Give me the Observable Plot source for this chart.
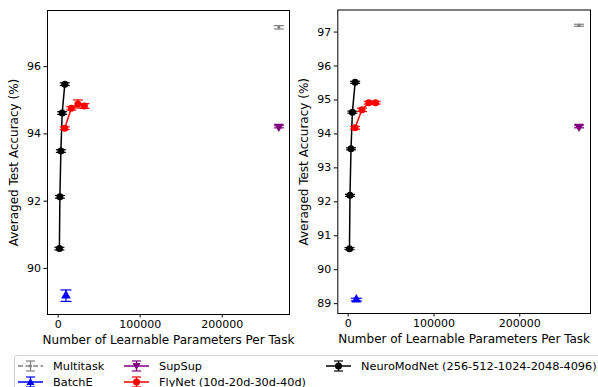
<!DOCTYPE html>
<html>
<head>
<meta charset="utf-8">
<script src="https://cdn.jsdelivr.net/npm/d3@7"></script>
<script src="https://cdn.jsdelivr.net/npm/@observablehq/plot@0.6"></script>
<style>
  html, body { margin: 0; padding: 0; background: #fff; overflow: hidden; }
  #root { position: relative; width: 598px; height: 387px; font-family: "DejaVu Sans", sans-serif; background: #fff; }
  .panel { position: absolute; top: 0; }
  .panel svg { background: transparent !important; }
  #legend { position: absolute; left: 14px; top: 355px; width: 590px; height: 50px;
            border: 1px solid #d0d0d0; border-radius: 3px; box-sizing: border-box; background: #fff; }
  .item { position: absolute; display: flex; align-items: center; font-size: 11.3px; color: #000; white-space: nowrap; }
  .item svg { margin-right: 9px; }
</style>
</head>
<body>
<div id="root">
  <div id="left" class="panel" style="left:0px"></div>
  <div id="right" class="panel" style="left:290px"></div>
  <div id="legend"></div>
</div>
<script>
// ---- data ----
const seriesNames = ["Multitask", "BatchE", "SupSup", "FlyNet (10d-20d-30d-40d)", "NeuroModNet (256-512-1024-2048-4096)"];
const seriesColors = ["#808080", "#0000ff", "#800080", "#ff0000", "#000000"];

const multitaskX = [269000];
const multitaskLeft = [97.17];
const multitaskLeftErr = [0.05];
const multitaskRight = [97.20];
const multitaskRightErr = [0.03];

const batchEX = [9500];
const batchELeft = [89.19];
const batchELeftErr = [0.17];
const batchERight = [89.12];
const batchERightErr = [0.04];

const supSupX = [269000];
const supSupLeft = [94.22];
const supSupLeftErr = [0.04];
const supSupRight = [94.22];
const supSupRightErr = [0.04];

const flyNetX = [8000, 16000, 24000, 32000];
const flyNetLeft = [94.17, 94.76, 94.89, 94.83];
const flyNetLeftErr = [0.04, 0.05, 0.12, 0.07];
const flyNetRight = [94.18, 94.71, 94.92, 94.92];
const flyNetRightErr = [0.04, 0.05, 0.04, 0.04];

const neuroX = [1500, 2100, 3300, 4900, 8100];
const neuroLeft = [90.59, 92.13, 93.49, 94.62, 95.48];
const neuroLeftErr = [0.04, 0.04, 0.04, 0.04, 0.04];
const neuroRight = [90.62, 92.19, 93.56, 94.64, 95.52];
const neuroRightErr = [0.03, 0.03, 0.03, 0.03, 0.03];

const xTicks = [0, 100000, 200000];
const leftYTicks = [90, 92, 94, 96];
const rightYTicks = [89, 90, 91, 92, 93, 94, 95, 96, 97];
const xLabel = "Number of Learnable Parameters Per Task";
const yLabel = "Averaged Test Accuracy (%)";

// ---- helpers ----
const capSymbol = {
  draw(ctx, size) {
    const r = Math.sqrt(size / Math.PI);
    ctx.moveTo(-r, 0);
    ctx.lineTo(r, 0);
  }
};

function rows(xs, ys, es) {
  return xs.map((x, i) => ({x, y: ys[i], lo: ys[i] - es[i], hi: ys[i] + es[i]}));
}

function seriesMarks(data, color, opts) {
  const marks = [];
  if (opts.line) marks.push(Plot.line(data, {x: "x", y: "y", stroke: color, strokeWidth: 1.5}));
  marks.push(Plot.ruleX(data, {x: "x", y1: "lo", y2: "hi", stroke: color, strokeWidth: 1.2}));
  marks.push(Plot.dot(data, {x: "x", y: "lo", symbol: capSymbol, r: opts.cap ?? 5, stroke: color, strokeWidth: 1.2}));
  marks.push(Plot.dot(data, {x: "x", y: "hi", symbol: capSymbol, r: opts.cap ?? 5, stroke: color, strokeWidth: 1.2}));
  marks.push(Plot.dot(data, {x: "x", y: "y", symbol: opts.symbol, r: opts.r, fill: color, stroke: "none", rotate: opts.rotate || 0}));
  return marks;
}

function panel(cfg) {
  return Plot.plot({
    width: cfg.width,
    height: 352,
    marginLeft: cfg.marginLeft,
    marginRight: cfg.marginRight,
    marginTop: cfg.marginTop,
    marginBottom: 352 - cfg.frameBottom,
    style: {fontFamily: "DejaVu Sans, sans-serif", fontSize: "11px", color: "#000", background: "transparent"},
    x: {domain: cfg.xDomain},
    y: {domain: cfg.yDomain},
    marks: [
      Plot.axisX({ticks: xTicks, tickFormat: d => String(d), tickSize: 3.5, tickPadding: 2, label: null, fontSize: 11}),
      Plot.axisY({ticks: cfg.yTicks, tickFormat: d => String(d), tickSize: 3.5, tickPadding: 3, label: null, fontSize: 11}),
      Plot.text([xLabel], {frameAnchor: "bottom", dy: 29, fontSize: 12, fill: "#000"}),
      Plot.text([yLabel], {frameAnchor: "left", dx: cfg.yLabelDx, rotate: -90, textAnchor: "middle", fontSize: 12, fill: "#000"}),
      ...seriesMarks(rows(multitaskX, cfg.mt, cfg.mtE), seriesColors[0], {symbol: "circle", r: 1.5, cap: 5}),
      ...seriesMarks(rows(supSupX, cfg.ss, cfg.ssE), seriesColors[2], {symbol: "triangle", r: 3.6, rotate: 180, cap: 5}),
      ...seriesMarks(rows(batchEX, cfg.be, cfg.beE), seriesColors[1], {symbol: "triangle", r: 3.6, cap: 5.5}),
      ...seriesMarks(rows(neuroX, cfg.nm, cfg.nmE), seriesColors[4], {symbol: "circle", r: 3.5, cap: 5, line: true}),
      ...seriesMarks(rows(flyNetX, cfg.fn, cfg.fnE), seriesColors[3], {symbol: "circle", r: 3.5, cap: 5, line: true}),
      Plot.frame({stroke: "#000", strokeWidth: 1})
    ]
  });
}

document.getElementById("left").append(panel({
  width: 298, marginLeft: 47, marginRight: 9, marginTop: 10, frameBottom: 314,
  xDomain: [-13000, 282000], yDomain: [88.63, 97.67], yTicks: leftYTicks, yLabelDx: -33,
  mt: multitaskLeft, mtE: multitaskLeftErr, ss: supSupLeft, ssE: supSupLeftErr,
  be: batchELeft, beE: batchELeftErr, nm: neuroLeft, nmE: neuroLeftErr, fn: flyNetLeft, fnE: flyNetLeftErr
}));

document.getElementById("right").append(panel({
  width: 308, marginLeft: 47.3, marginRight: 8, marginTop: 9.5, frameBottom: 313,
  xDomain: [-12100, 282400], yDomain: [88.71, 97.65], yTicks: rightYTicks, yLabelDx: -34,
  mt: multitaskRight, mtE: multitaskRightErr, ss: supSupRight, ssE: supSupRightErr,
  be: batchERight, beE: batchERightErr, nm: neuroRight, nmE: neuroRightErr, fn: flyNetRight, fnE: flyNetRightErr
}));

// ---- legend ----
const legendPos = [[3, 10], [3, 26], [109, 10], [109, 26], [311, 10]]; // relative to legend box
const legendMarker = ["dot", "triangle", "triangledown", "circle", "circle"];
const legend = document.getElementById("legend");
seriesNames.forEach((name, i) => {
  const c = seriesColors[i];
  const item = document.createElement("div");
  item.className = "item";
  item.style.left = legendPos[i][0] + "px";
  item.style.top = (legendPos[i][1] - 8) + "px";
  const ns = "http://www.w3.org/2000/svg";
  const svg = document.createElementNS(ns, "svg");
  svg.setAttribute("width", 26); svg.setAttribute("height", 16);
  const mk = (tag, attrs) => { const e = document.createElementNS(ns, tag); for (const k in attrs) e.setAttribute(k, attrs[k]); svg.append(e); return e; };
  mk("line", {x1: 0, x2: 25, y1: 8, y2: 8, stroke: c, "stroke-width": 1.5, "stroke-dasharray": i === 0 ? "5,2.5" : "none"});
  mk("line", {x1: 12.5, x2: 12.5, y1: 3, y2: 13, stroke: c, "stroke-width": 1.2});
  mk("line", {x1: 8, x2: 17, y1: 3, y2: 3, stroke: c, "stroke-width": 1.2});
  mk("line", {x1: 8, x2: 17, y1: 13, y2: 13, stroke: c, "stroke-width": 1.2});
  const m = legendMarker[i];
  if (m === "dot") mk("circle", {cx: 12.5, cy: 8, r: 1.6, fill: c});
  else if (m === "circle") mk("circle", {cx: 12.5, cy: 8, r: 3.5, fill: c});
  else if (m === "triangle") mk("path", {d: "M12.5,4 L16.5,11 L8.5,11 Z", fill: c});
  else mk("path", {d: "M12.5,12 L16.5,5 L8.5,5 Z", fill: c});
  item.append(svg);
  const t = document.createElement("span");
  t.textContent = name;
  item.append(t);
  legend.append(item);
});
</script>
</body>
</html>
